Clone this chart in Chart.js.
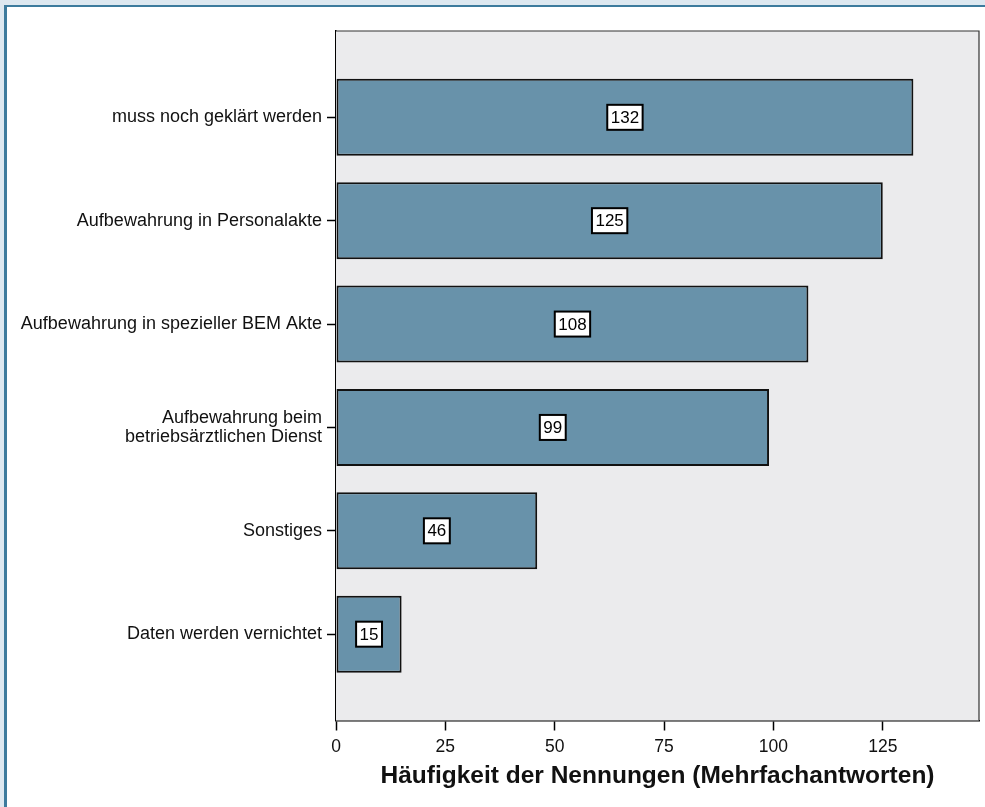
<!DOCTYPE html>
<html>
<head>
<meta charset="utf-8">
<script src="https://cdn.jsdelivr.net/npm/chart.js@4.4.1/dist/chart.umd.min.js"></script>
<style>
  html, body { margin: 0; padding: 0; background: #dde8f0; }
  #frame { position: absolute; left: 4px; top: 5px; width: 981px; height: 802px; box-sizing: border-box;
           border-left: 3px solid #3d7b9d; border-top: 2px solid #3d7b9d; background: #fff; }
  #wrap { position: absolute; left: 0; top: 0; width: 985px; height: 807px; }
</style>
</head>
<body>
<div id="frame"></div>
<div id="wrap"><canvas id="myChart" width="985" height="807"></canvas></div>
<script>
const categories = [
  'muss noch geklärt werden',
  'Aufbewahrung in Personalakte',
  'Aufbewahrung in spezieller BEM Akte',
  ['Aufbewahrung beim', 'betriebsärztlichen Dienst'],
  'Sonstiges',
  'Daten werden vernichtet'
];
const counts = [132, 125, 108, 99, 46, 15];
const xTicks = [0, 25, 50, 75, 100, 125];
const xTitle = 'Häufigkeit der Nennungen (Mehrfachantworten)';

const FONT = "'Liberation Sans', Arial, sans-serif";

// grey plot box behind the bars, thin frame on top/right
const plotBox = {
  id: 'plotBox',
  beforeDatasetsDraw(chart) {
    const { ctx, chartArea: a } = chart;
    ctx.save();
    ctx.fillStyle = '#ebebed';
    ctx.fillRect(a.left, a.top, a.right - a.left, a.bottom - a.top);
    ctx.strokeStyle = '#333';
    ctx.lineWidth = 1.2;
    ctx.beginPath();
    ctx.moveTo(a.left, a.top);
    ctx.lineTo(a.right, a.top);
    ctx.lineTo(a.right, a.bottom);
    ctx.stroke();
    ctx.restore();
  }
};

// value boxes in the middle of each bar
const valueBoxes = {
  id: 'valueBoxes',
  afterDatasetsDraw(chart) {
    const { ctx } = chart;
    const meta = chart.getDatasetMeta(0);
    ctx.save();
    ctx.font = '17px ' + FONT;
    ctx.textAlign = 'center';
    ctx.textBaseline = 'middle';
    meta.data.forEach((bar, i) => {
      const { x, y, base } = bar.getProps(['x', 'y', 'base'], true);
      const cx = (x + base) / 2;
      const txt = String(counts[i]);
      const w = ctx.measureText(txt).width + 7;
      const h = 25;
      ctx.fillStyle = '#fff';
      ctx.fillRect(cx - w / 2, y - h / 2, w, h);
      ctx.strokeStyle = '#000';
      ctx.lineWidth = 2;
      ctx.strokeRect(cx - w / 2, y - h / 2, w, h);
      ctx.fillStyle = '#000';
      ctx.fillText(txt, cx, y + 1);
    });
    ctx.restore();
  }
};

new Chart(document.getElementById('myChart'), {
  type: 'bar',
  data: {
    datasets: [{
      data: counts.map((v, i) => ({ x: v, y: i })),
      backgroundColor: '#6892aa',
      borderColor: '#111',
      borderWidth: 2,
      borderSkipped: false,
      barPercentage: 0.745,
      categoryPercentage: 1
    }]
  },
  options: {
    indexAxis: 'y',
    responsive: false,
    animation: false,
    layout: { padding: { top: 31, right: 6, left: 0, bottom: 0 } },
    plugins: { legend: { display: false }, tooltip: { enabled: false } },
    scales: {
      x: {
        type: 'linear',
        position: 'bottom',
        min: 0,
        max: 147,
        afterBuildTicks: axis => { axis.ticks = xTicks.map(v => ({ value: v })); },
        afterFit: axis => { axis.height = 86.5; },
        grid: { drawOnChartArea: false, drawTicks: true, tickLength: 10, tickColor: '#000', tickWidth: 1.5 },
        border: { display: true, color: '#000', width: 1.5 },
        ticks: { color: '#111', font: { family: FONT, size: 17.5 }, padding: 6, maxRotation: 0 },
        title: {
          display: true,
          text: xTitle,
          color: '#111',
          font: { family: FONT, size: 24.5, weight: 'bold' },
          padding: { top: 4, bottom: 16 }
        }
      },
      y: {
        type: 'linear',
        min: -0.835,
        max: 5.835,
        reverse: true,
        offset: false,
        afterBuildTicks: axis => { axis.ticks = categories.map((c, i) => ({ value: i })); },
        afterFit: axis => { axis.width = 336; },
        grid: { offset: false, drawOnChartArea: false, drawTicks: true, tickLength: 9, tickColor: '#000', tickWidth: 1.5 },
        border: { display: true, color: '#000', width: 1.5 },
        ticks: {
          color: '#111',
          font: { family: FONT, size: 18, lineHeight: 1.05 },
          padding: 5,
          callback: v => categories[v]
        }
      }
    }
  },
  plugins: [plotBox, valueBoxes]
});
</script>
</body>
</html>
